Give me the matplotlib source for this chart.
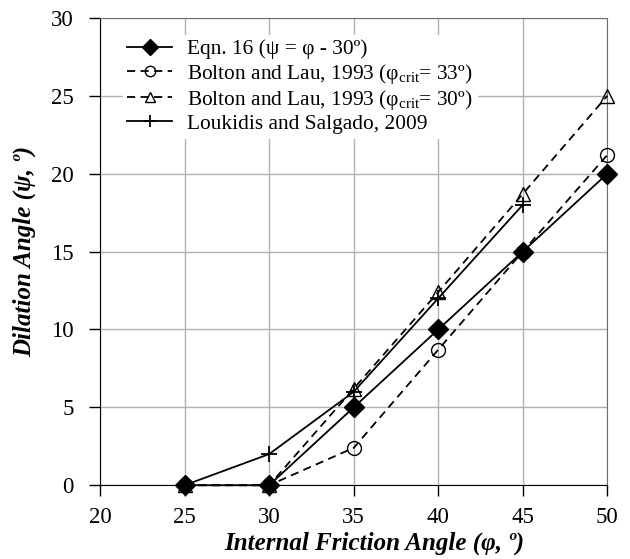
import matplotlib

matplotlib.use("Agg")
import matplotlib.pyplot as plt  # noqa: E402

plt.rcParams["font.family"] = ["Liberation Serif", "DejaVu Serif"]
plt.rcParams["mathtext.fontset"] = "custom"
plt.rcParams["mathtext.rm"] = "Liberation Serif"
plt.rcParams["mathtext.it"] = "Liberation Serif:italic"

# data
phi = [25, 30, 35, 40, 45, 50]
eqn16 = [0, 0, 5, 10, 15, 20]
bolton33 = [0, 0, 2.4, 8.7, 15, 21.2]
bolton30 = [0, 0, 6.2, 12.4, 18.7, 25]
phi_lk = [25, 30, 35, 40, 45]
loukidis = [0, 2, 6, 12, 18]

fig = plt.figure(figsize=(6.3, 5.59), dpi=100)
ax = fig.add_axes([0.159, 0.132, 0.805, 0.836])

dash = (4.5, 3)
ax.plot(phi, eqn16, "k-", lw=1.3, marker="D", ms=10.5, mfc="black",
        clip_on=False, zorder=5, label="Eqn. 16 (ψ = φ - 30º)")
ax.plot(phi, bolton33, "k--", lw=1.3, dashes=dash, marker="o", ms=10,
        mfc="none", clip_on=False, zorder=3,
        label="Bolton and Lau, 1993 (φ$_{\\mathrm{crit}}$= 33º)")
ax.plot(phi, bolton30, "k--", lw=1.3, dashes=dash, marker="^", ms=10,
        mfc="none", clip_on=False, zorder=3,
        label="Bolton and Lau, 1993 (φ$_{\\mathrm{crit}}$= 30º)")
ax.plot(phi_lk, loukidis, "k-", lw=1.3, marker="+", ms=12, mew=1.3,
        clip_on=False, zorder=4, label="Loukidis and Salgado, 2009")

ax.set_xlim(20, 50)
ax.set_ylim(0, 30)
ax.set_xticks(range(20, 51, 5))
ax.set_yticks(range(0, 31, 5))
ax.grid(True, color="#b0b0b0", lw=1)
ax.set_axisbelow(True)
for side in ("top", "right"):
    ax.spines[side].set_color("#707070")
for side in ("left", "bottom"):
    ax.spines[side].set_color("black")
ax.tick_params(axis="both", direction="out", length=8, labelsize=16.5, width=1)
ax.tick_params(axis="y", pad=11)
ax.tick_params(axis="x", pad=8)

ax.set_xlabel("Internal Friction Angle (φ, º)", fontsize=18,
              fontweight="bold", style="italic", labelpad=2)
ax.xaxis.label.set_x(0.54)
ax.set_ylabel("Dilation Angle (ψ, º)", fontsize=18,
              fontweight="bold", style="italic", labelpad=11)

leg = ax.legend(loc="upper left", bbox_to_anchor=(0.045, 0.963), fontsize=15.4,
                frameon=True, fancybox=False, edgecolor="white",
                framealpha=1, handlelength=2.1, handletextpad=0.7,
                labelspacing=0.1, borderpad=0.2, borderaxespad=0,
                markerscale=0.75)
leg.set_zorder(10)

fig.savefig("out.png", dpi=100)
